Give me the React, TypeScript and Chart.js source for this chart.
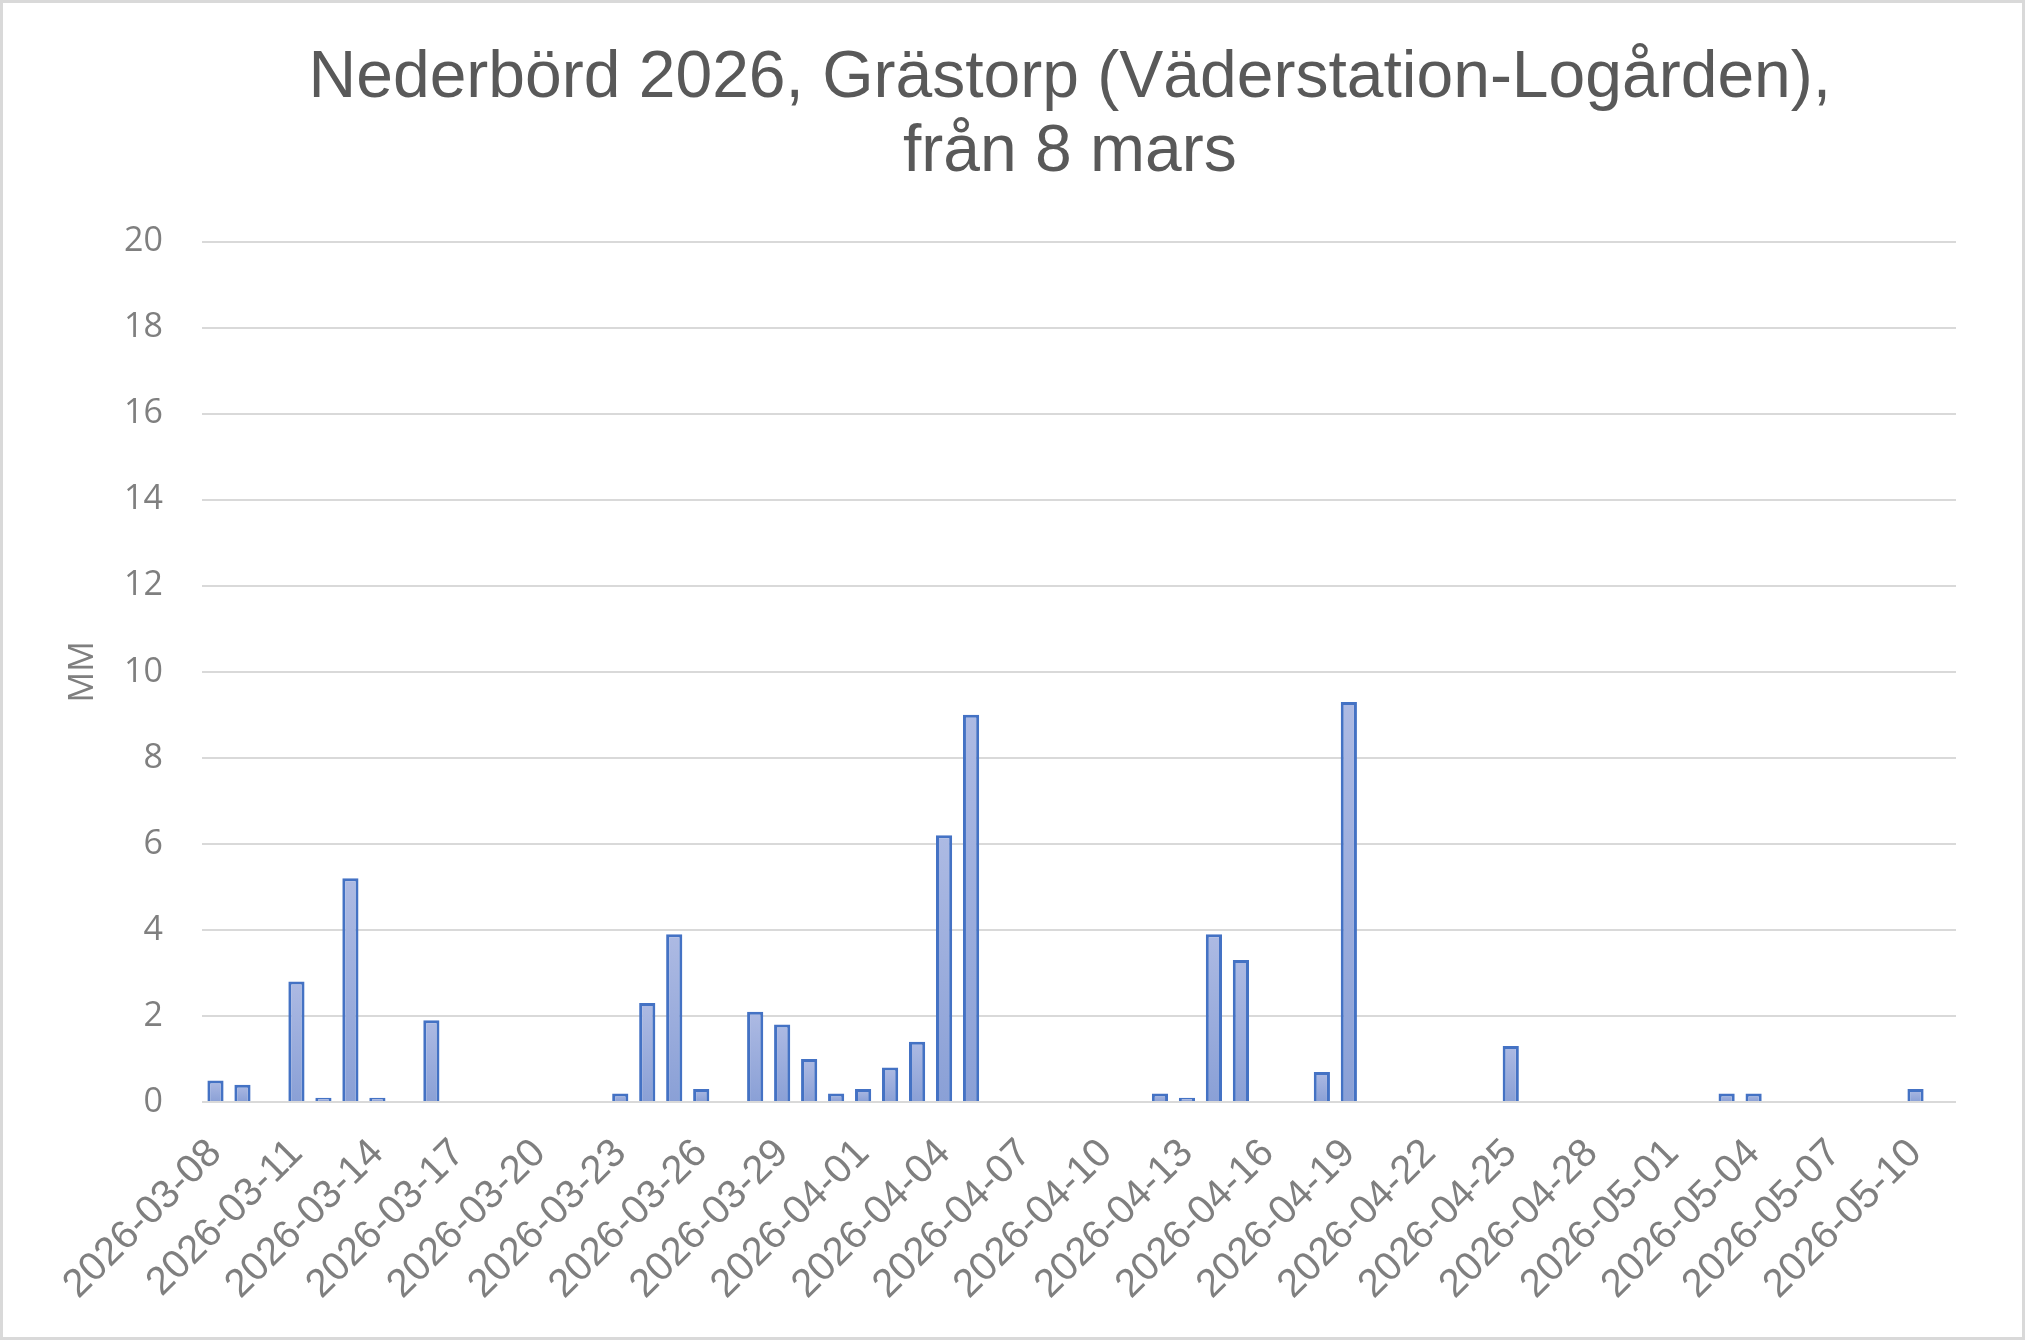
import { useEffect, useRef } from 'react'
import { Chart, registerables } from 'chart.js'
import type { ScriptableContext } from 'chart.js'

Chart.register(...registerables)

// trailing space nudges each centred line slightly left, as in the original
const TITLE_LINES = ['Nederbörd 2026, Grästorp (Väderstation-Logården), ', 'från 8 mars ']
const Y_AXIS_TITLE = 'MM'

const DATES = [
  '2026-03-08', '2026-03-09', '2026-03-10', '2026-03-11', '2026-03-12', '2026-03-13', '2026-03-14',
  '2026-03-15', '2026-03-16', '2026-03-17', '2026-03-18', '2026-03-19', '2026-03-20', '2026-03-21',
  '2026-03-22', '2026-03-23', '2026-03-24', '2026-03-25', '2026-03-26', '2026-03-27', '2026-03-28',
  '2026-03-29', '2026-03-30', '2026-03-31', '2026-04-01', '2026-04-02', '2026-04-03', '2026-04-04',
  '2026-04-05', '2026-04-06', '2026-04-07', '2026-04-08', '2026-04-09', '2026-04-10', '2026-04-11',
  '2026-04-12', '2026-04-13', '2026-04-14', '2026-04-15', '2026-04-16', '2026-04-17', '2026-04-18',
  '2026-04-19', '2026-04-20', '2026-04-21', '2026-04-22', '2026-04-23', '2026-04-24', '2026-04-25',
  '2026-04-26', '2026-04-27', '2026-04-28', '2026-04-29', '2026-04-30', '2026-05-01', '2026-05-02',
  '2026-05-03', '2026-05-04', '2026-05-05', '2026-05-06', '2026-05-07', '2026-05-08', '2026-05-09',
  '2026-05-10', '2026-05-11',
]

// daily precipitation, mm (one per date above)
const PRECIP_MM = [
  0.5, 0.4, 0, 2.8, 0.1, 5.2, 0.1,
  0, 1.9, 0, 0, 0, 0, 0,
  0, 0.2, 2.3, 3.9, 0.3, 0, 2.1,
  1.8, 1.0, 0.2, 0.3, 0.8, 1.4, 6.2,
  9.0, 0, 0, 0, 0, 0, 0,
  0.2, 0.1, 3.9, 3.3, 0, 0, 0.7,
  9.3, 0, 0, 0, 0, 0, 1.3,
  0, 0, 0, 0, 0, 0, 0,
  0.2, 0.2, 0, 0, 0, 0, 0,
  0.3, 0,
]

const Y_MIN = 0
const Y_MAX = 20
const Y_STEP = 2
const LABEL_EVERY = 3

const GRID_COLOR = '#d9d9d9'
const TICK_COLOR = '#7f7f7f'
const TITLE_COLOR = '#595959'
const BAR_BORDER = '#4472c4'
const BAR_TOP = '#adbae3'
const BAR_BOTTOM = '#8aa0d6'

function barFill(ctx: ScriptableContext<'bar'>) {
  const chart = ctx.chart
  const y = chart.scales.y
  const v = ctx.raw as number
  if (!chart.chartArea || !y || !v) return BAR_BOTTOM
  const top = y.getPixelForValue(v)
  const base = y.getPixelForValue(0)
  const g = chart.ctx.createLinearGradient(0, top, 0, base)
  g.addColorStop(0, BAR_TOP)
  g.addColorStop(1, BAR_BOTTOM)
  return g
}

export default function App() {
  const canvasRef = useRef<HTMLCanvasElement>(null)

  useEffect(() => {
    const canvas = canvasRef.current
    if (!canvas) return

    const chart = new Chart(canvas, {
      type: 'bar',
      data: {
        labels: DATES,
        datasets: [
          {
            data: PRECIP_MM,
            backgroundColor: barFill,
            borderColor: BAR_BORDER,
            borderWidth: 3,
            borderSkipped: 'start',
            barPercentage: 0.6,
            categoryPercentage: 1,
          },
        ],
      },
      options: {
        animation: false,
        responsive: true,
        maintainAspectRatio: false,
        devicePixelRatio: 1,
        events: [],
        layout: { padding: { left: 0, right: 66, top: 0, bottom: 0 } },
        plugins: {
          legend: { display: false },
          tooltip: { enabled: false },
          title: {
            display: true,
            text: TITLE_LINES,
            fullSize: false,
            color: TITLE_COLOR,
            font: { family: '"Liberation Sans", Arial, sans-serif', size: 66, weight: 'normal', lineHeight: 1.115 },
            padding: { top: 39.4, bottom: 52.1 },
          },
        },
        scales: {
          x: {
            grid: { display: false, drawTicks: false },
            border: { display: false },
            ticks: {
              autoSkip: false,
              minRotation: 45,
              maxRotation: 45,
              padding: 28,
              color: TICK_COLOR,
              font: { family: '"Liberation Sans", Arial, sans-serif', size: 40 },
              callback: (_v, i) => (i % LABEL_EVERY === 0 ? DATES[i] : ''),
            },
            afterFit: (s) => {
              s.height = 235
            },
          },
          y: {
            min: Y_MIN,
            max: Y_MAX,
            grid: { color: GRID_COLOR, lineWidth: 2, drawTicks: false },
            border: { display: false },
            ticks: {
              stepSize: Y_STEP,
              padding: 39,
              color: TICK_COLOR,
              font: { family: '"Open Sans", sans-serif', size: 34 },
            },
            title: {
              display: true,
              text: Y_AXIS_TITLE,
              color: TICK_COLOR,
              font: { family: '"Open Sans", sans-serif', size: 34 },
              padding: { top: 60, bottom: 0 },
            },
            afterFit: (s) => {
              s.width = 199
            },
          },
        },
      },
    })

    return () => {
      chart.destroy()
    }
  }, [])

  return (
    <div
      style={{
        position: 'absolute',
        left: 0,
        top: 0,
        width: 2025,
        height: 1340,
        boxSizing: 'border-box',
        border: '3px solid #d9d9d9',
        background: '#ffffff',
      }}
    >
      <div style={{ position: 'relative', width: 2019, height: 1334 }}>
        <canvas ref={canvasRef} />
      </div>
    </div>
  )
}
